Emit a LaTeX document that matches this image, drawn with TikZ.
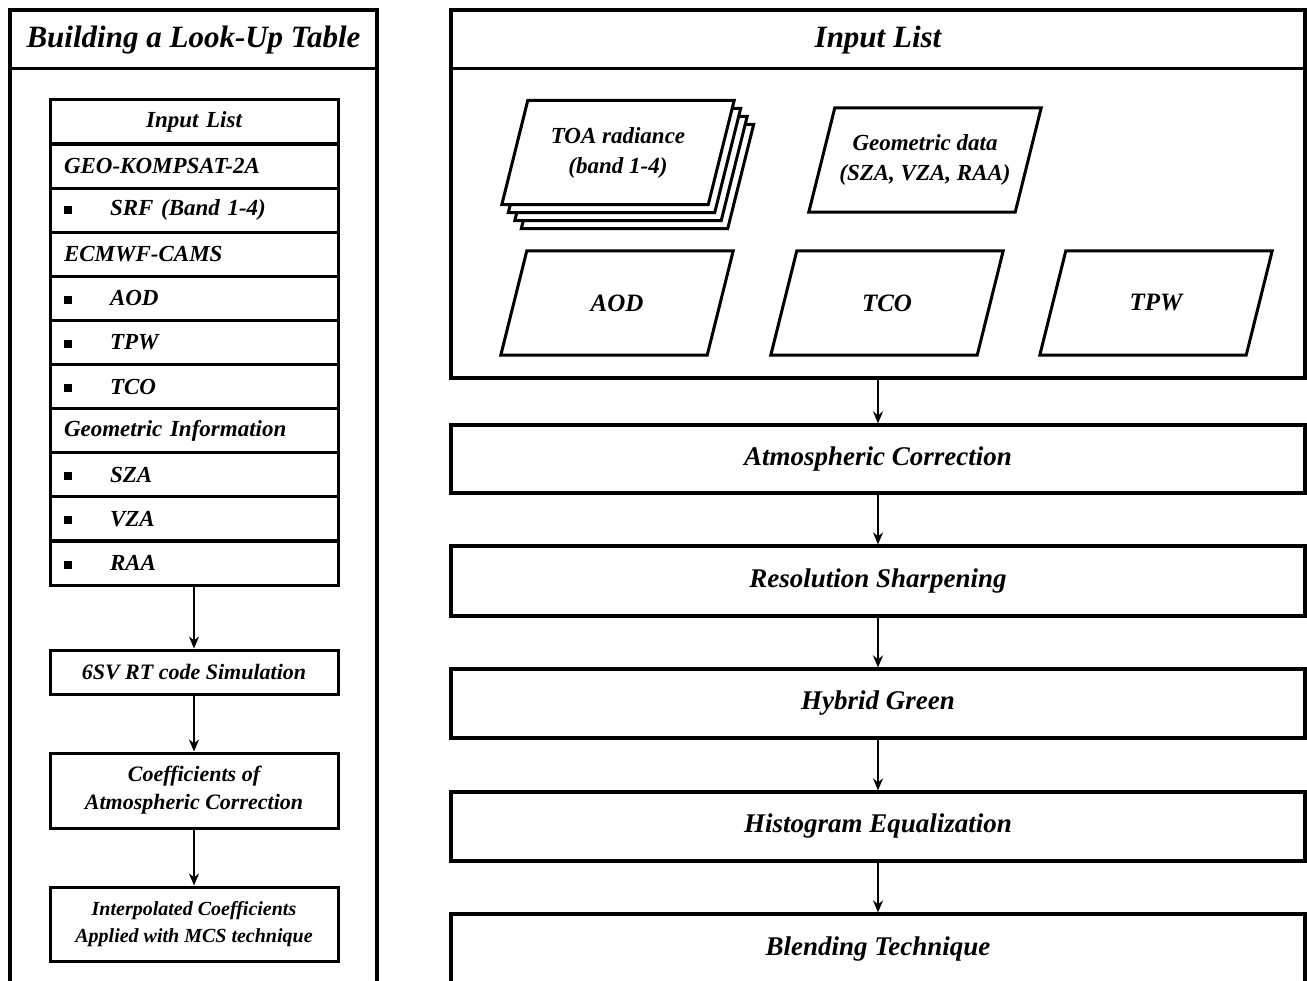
\documentclass[tikz,border=0pt]{standalone}
\usepackage{fontspec}
\setmainfont{Liberation Serif}
\usetikzlibrary{arrows.meta,positioning,backgrounds}

\newcommand{\itm}[1]{\rule[2pt]{8pt}{8pt}\hspace{38pt}#1}
% parallelogram drawn round a node, shifted by (#2,#3)
\newcommand{\para}[3]{\draw[line width=3pt, fill=white]
  ([xshift={13pt+(#2)*1pt},yshift={(#3)*1pt}]#1.north west) -- ([xshift={13pt+(#2)*1pt},yshift={(#3)*1pt}]#1.north east)
  -- ([xshift={-13pt+(#2)*1pt},yshift={(#3)*1pt}]#1.south east) -- ([xshift={-13pt+(#2)*1pt},yshift={(#3)*1pt}]#1.south west) -- cycle;}

\tikzset{
  frame/.style={draw, line width=3.2pt, inner sep=0pt},
  ttl/.style={font=\fontsize{31}{36}\selectfont\bfseries\itshape},
  rowbox/.style={draw, line width=3pt, minimum width=288pt, minimum height=44pt,
    inner xsep=14pt, text width=260pt, align=left, font=\fontsize{23}{27}\selectfont\bfseries\itshape},
  lbox/.style={draw, line width=3pt, minimum width=288pt, align=center,
    font=\fontsize{22}{28}\selectfont\bfseries\itshape},
  rbox/.style={draw, line width=3.2pt, minimum width=854pt, minimum height=68pt,
    font=\fontsize{27}{32}\selectfont\bfseries\itshape},
  inbox/.style={minimum width=206pt, minimum height=104pt, align=center,
    font=\fontsize{23}{30}\selectfont\bfseries\itshape},
}

\begin{document}
\begin{tikzpicture}[x=1pt,y=-1pt,>={Stealth[length=12pt,width=10pt]}]
\clip (0,0) rectangle (1307,981);

% left panel
\node[frame, minimum width=367pt, minimum height=1000pt] (lut) at (193.5,510) {};
\draw[line width=3.2pt] ([yshift=-60pt]lut.north west) -- ([yshift=-60pt]lut.north east);
\node[ttl] (lutt) at (193.5,40) {Building a Look-Up Table};

\node[rowbox, align=center] (lst) at (194,122) {Input List};
\foreach \nm/\txt [count=\i] in {geo/GEO-KOMPSAT-2A, srf/\itm{SRF (Band 1-4)}, ecm/ECMWF-CAMS,
    aod0/\itm{AOD}, tpw0/\itm{TPW}, tco0/\itm{TCO}, gin/Geometric Information,
    sza/\itm{SZA}, vza/\itm{VZA}, raa/\itm{RAA}}
  \node[rowbox] (\nm) at (194,{122+44.1*\i}) {\txt};

\node[lbox, minimum height=44pt] (sim) at (194,672) {6SV RT code Simulation};
\node[lbox, minimum height=75pt] (coef) at (194,790.5) {Coefficients of\\Atmospheric Correction};
\node[lbox, minimum height=74pt, font=\fontsize{20}{27}\selectfont\bfseries\itshape] (intp) at (194,924)
  {Interpolated Coefficients\\Applied with MCS technique};

\path[->, line width=2.2pt]
    (raa) edge (sim)
    (sim) edge (coef)
    (coef) edge (intp);

% right panel
\node[frame, minimum width=854pt, minimum height=368pt] (inp) at (878,194) {};
\draw[line width=3.2pt] ([yshift=-60pt]inp.north west) -- ([yshift=-60pt]inp.north east);
\node[ttl, font=\fontsize{31}{36}\selectfont\bfseries\itshape] (inpt) at (878,40) {Input List};

\node[inbox] (toa) at (618,152.5) {TOA radiance\\(band 1-4)};
\node[inbox] (gdat) at (925,160) {Geometric data\\(SZA, VZA, RAA)};
\node[inbox, font=\fontsize{25}{30}\selectfont\bfseries\itshape] (aod) at (617,303) {AOD};
\node[inbox, font=\fontsize{25}{30}\selectfont\bfseries\itshape] (tco) at (887,303) {TCO};
\node[inbox, font=\fontsize{25}{30}\selectfont\bfseries\itshape] (tpw) at (1156,303) {TPW};

\begin{pgfonlayer}{background}
  \foreach \k in {3,2,1}
    {\para{toa}{6.5*\k}{-8*\k}}
  \foreach \n in {toa,gdat,aod,tco,tpw}
    {\para{\n}{0}{0}}
\end{pgfonlayer}

\node[rbox] (atm) at (878,459) {Atmospheric Correction};
\node[rbox, minimum height=70pt] (res) at (878,581) {Resolution Sharpening};
\node[rbox, minimum height=69pt] (hyb) at (878,703.5) {Hybrid Green};
\node[rbox, minimum height=69pt] (his) at (878,826.5) {Histogram Equalization};
\node[rbox, minimum height=100pt, text depth=36pt] (bln) at (878,964) {Blending Technique};

\path[->, line width=2.2pt]
    (inp) edge (atm)
    (atm) edge (res)
    (res) edge (hyb)
    (hyb) edge (his)
    (his) edge (bln);
\end{tikzpicture}
\end{document}
